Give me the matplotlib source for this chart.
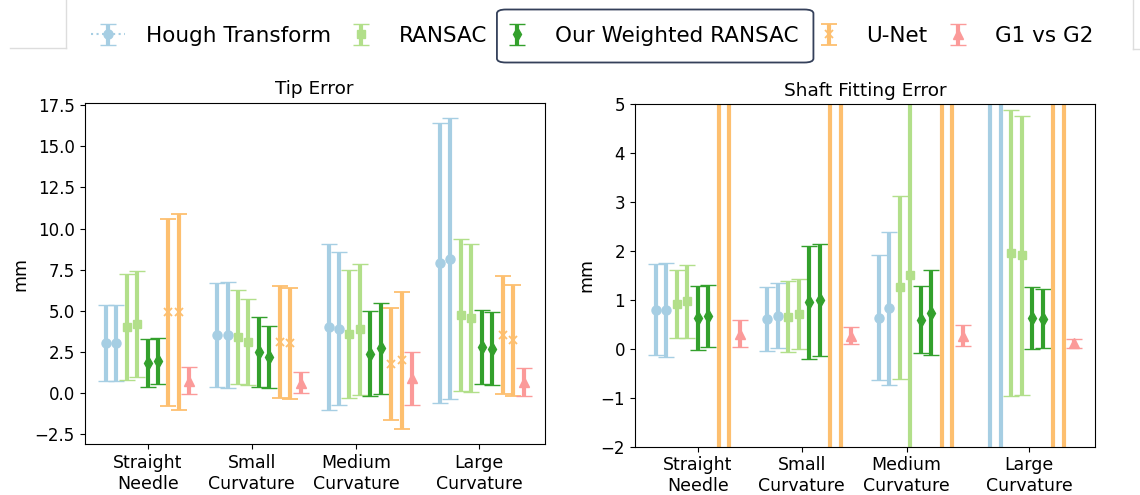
import matplotlib
matplotlib.use("Agg")
import matplotlib.pyplot as plt
from matplotlib.patches import FancyBboxPatch
from matplotlib.lines import Line2D

# ---- data ---------------------------------------------------------------
categories = ["Straight\nNeedle", "Small\nCurvature", "Medium\nCurvature", "Large\nCurvature"]
methods = ["Hough Transform", "RANSAC", "Our Weighted RANSAC", "U-Net", "G1 vs G2"]

# Tip error (mm): two entries per method and category, one for G1 vs G2
tip_hough_mean = [[3.05, 3.05], [3.53, 3.53], [4.02, 3.93], [7.91, 8.18]]
tip_hough_err = [[2.30, 2.30], [3.17, 3.21], [5.02, 4.67], [8.50, 8.52]]
tip_ransac_mean = [[4.03, 4.20], [3.39, 3.11], [3.59, 3.87], [4.75, 4.56]]
tip_ransac_err = [[3.20, 3.22], [2.85, 2.63], [3.90, 3.96], [4.59, 4.50]]
tip_ours_mean = [[1.83, 1.94], [2.50, 2.21], [2.40, 2.72], [2.82, 2.70]]
tip_ours_err = [[1.45, 1.40], [2.12, 1.89], [2.57, 2.75], [2.24, 2.22]]
tip_unet_mean = [[4.92, 4.94], [3.12, 3.02], [1.77, 2.00], [3.52, 3.21]]
tip_unet_err = [[5.67, 5.97], [3.40, 3.40], [3.42, 4.16], [3.59, 3.39]]
tip_g1_mean = [0.77, 0.65, 0.90, 0.66]
tip_g1_err = [0.80, 0.61, 1.60, 0.85]

# Shaft fitting error (mm)
shaft_hough_mean = [[0.80, 0.80], [0.61, 0.68], [0.64, 0.83], [9.00, 9.40]]
shaft_hough_err = [[0.93, 0.96], [0.66, 0.67], [1.28, 1.56], [14.0, 14.5]]
shaft_ransac_mean = [[0.92, 0.97], [0.66, 0.71], [1.26, 1.52], [1.96, 1.91]]
shaft_ransac_err = [[0.69, 0.75], [0.72, 0.72], [1.87, 5.50], [2.92, 2.86]]
shaft_ours_mean = [[0.63, 0.67], [0.95, 1.00], [0.60, 0.74], [0.63, 0.62]]
shaft_ours_err = [[0.66, 0.63], [1.16, 1.15], [0.68, 0.87], [0.63, 0.61]]
shaft_unet_mean = [[11.0, 11.5], [10.5, 11.0], [12.0, 12.5], [13.0, 13.5]]
shaft_unet_err = [[20.0, 21.0], [20.0, 21.0], [21.0, 22.0], [22.0, 23.0]]
shaft_g1_mean = [0.31, 0.27, 0.27, 0.11]
shaft_g1_err = [0.28, 0.17, 0.21, 0.09]

tick_positions = [0.377, 1.31, 2.25, 3.35]

# ---- styles -------------------------------------------------------------
colors = ["#a6cee3", "#b2df8a", "#33a02c", "#fdbf6f", "#fb9a99"]
markers = ["o", "s", "d", "x", "^"]
msizes = [6.5, 5.5, 7, 6, 6.5]
lstyles = [":", "none", "none", "none", "none"]
step = 0.094

plt.rcParams["font.family"] = ["DejaVu Sans"]

fig = plt.figure(figsize=(11.4, 4.95), dpi=100)
ax1 = fig.add_axes([0.0743, 0.1024, 0.4035, 0.6901])
ax2 = fig.add_axes([0.5568, 0.0976, 0.4037, 0.6917])


def draw_panel(ax, means, errs):
    handles = []
    for i in range(len(categories)):
        k = 0
        for m, (mv, ev) in enumerate(zip(means, errs)):
            vals = mv[i] if isinstance(mv[i], list) else [mv[i]]
            es = ev[i] if isinstance(ev[i], list) else [ev[i]]
            for v, e in zip(vals, es):
                h = ax.errorbar(i + k * step, v, yerr=e, color=colors[m],
                                marker=markers[m], markersize=msizes[m],
                                linestyle=lstyles[m], elinewidth=3,
                                capsize=6, capthick=1.5,
                                markeredgewidth=1.3 if markers[m] == "x" else 1)
                if i == 0 and len(handles) == m:
                    handles.append(h)
                k += 1
    ax.set_xticks(tick_positions)
    ax.set_xticklabels(categories, fontsize=12.5)
    ax.tick_params(axis="y", labelsize=12)
    ax.set_ylabel("mm", fontsize=12.5)
    return handles


handles = draw_panel(
    ax1,
    [tip_hough_mean, tip_ransac_mean, tip_ours_mean, tip_unet_mean, tip_g1_mean],
    [tip_hough_err, tip_ransac_err, tip_ours_err, tip_unet_err, tip_g1_err])
ax1.set_title("Tip Error", fontsize=13.3)

draw_panel(
    ax2,
    [shaft_hough_mean, shaft_ransac_mean, shaft_ours_mean, shaft_unet_mean, shaft_g1_mean],
    [shaft_hough_err, shaft_ransac_err, shaft_ours_err, shaft_unet_err, shaft_g1_err])
ax2.set_ylim(-2, 5)
ax2.set_title("Shaft Fitting Error", fontsize=13.3)

leg = fig.legend(handles, methods, loc="center", ncol=5, frameon=False,
                 fontsize=15.5, bbox_to_anchor=(0.5195, 1 - 36 / 495),
                 handlelength=1.6, handletextpad=0.95, columnspacing=0.6)

# highlight box around the proposed method in the legend
fig.canvas.draw()
txt = leg.get_texts()[2].get_window_extent()
W, H = fig.bbox.width, fig.bbox.height
x0, x1 = (txt.x0 - 58) / W, (txt.x1 + 15) / W
yc = (txt.y0 + txt.y1) / 2 / H
hh = 26.5 / H
fig.patches.append(FancyBboxPatch((x0, yc - hh), x1 - x0, 2 * hh,
                                  boxstyle="round,pad=0,rounding_size=0.008",
                                  transform=fig.transFigure, fill=False,
                                  edgecolor="#34405a", linewidth=1.3))

# faint frame edges around the legend strip
for xs, ys in [((10, 66), (48, 48)), ((66, 66), (0, 48)),
               ((1133, 1133), (0, 49)), ((1133, 1140), (49, 49))]:
    fig.lines.append(Line2D([x / W for x in xs], [1 - y / H for y in ys],
                            transform=fig.transFigure, color="#dddddd",
                            linewidth=1))

fig.savefig("out.png", dpi=100)
